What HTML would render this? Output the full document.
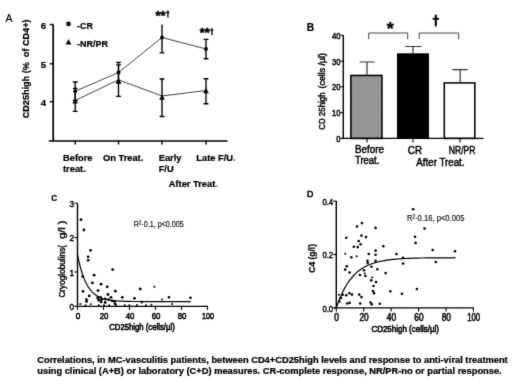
<!DOCTYPE html>
<html><head><meta charset="utf-8"><title>Figure</title>
<style>
html,body{margin:0;padding:0;background:#fff;}
body{width:520px;height:381px;overflow:hidden;font-family:"Liberation Sans",sans-serif;}
svg{display:block;}
text{font-family:"Liberation Sans",sans-serif;fill:#000;}
.b{font-weight:bold;stroke:#000;stroke-width:0.22px;}
</style></head><body>
<svg width="520" height="381" viewBox="0 0 520 381">
<defs><filter id="soft" x="0" y="0" width="520" height="381" filterUnits="userSpaceOnUse" color-interpolation-filters="sRGB"><feConvolveMatrix order="3" kernelMatrix="0.0113 0.0838 0.0113 0.0838 0.6193 0.0838 0.0113 0.0838 0.0113" edgeMode="duplicate" preserveAlpha="true"/></filter><pattern id="hatch" width="3" height="3" patternUnits="userSpaceOnUse"><rect width="3" height="3" fill="#a9a9a9"/><rect width="1.5" height="1.5" fill="#808080"/><rect x="1.5" y="1.5" width="1.5" height="1.5" fill="#808080"/></pattern></defs>
<g filter="url(#soft)"><rect width="520" height="381" fill="#fff"/>
<g id="panelA">
<text x="5.6" y="21.8" font-size="10.5" stroke="#000" stroke-width="0.2">A</text>
<text class="b" font-size="9" transform="translate(29,118.3) rotate(-90)" textLength="98.8" lengthAdjust="spacingAndGlyphs" xml:space="preserve">CD25high (%  of CD4+)</text>
<path d="M53.2 24.4V141M48.8 141H227.5" stroke="#000" stroke-width="1.7" fill="none"/>
<path d="M49.8 24.5H53.2" stroke="#000" stroke-width="1.4"/>
<path d="M49.8 63.8H53.2" stroke="#000" stroke-width="1.4"/>
<path d="M49.8 101.7H53.2" stroke="#000" stroke-width="1.4"/>
<path d="M75.2 140.8V144.5" stroke="#000" stroke-width="1.4"/>
<path d="M118.5 140.8V144.5" stroke="#000" stroke-width="1.4"/>
<path d="M162 140.8V144.5" stroke="#000" stroke-width="1.4"/>
<path d="M206 140.8V144.5" stroke="#000" stroke-width="1.4"/>
<text class="b" font-size="9.6" x="46.2" y="28.9" text-anchor="end">6</text>
<text class="b" font-size="9.6" x="46.2" y="68.2" text-anchor="end">5</text>
<text class="b" font-size="9.6" x="46.2" y="106.1" text-anchor="end">4</text>
<circle cx="68.5" cy="23.9" r="2.35"/>
<path d="M68.5 39 L71.3 44.4 L65.7 44.4Z"/>
<text class="b" font-size="9" x="77" y="29.3">-CR</text>
<text class="b" font-size="9" x="77" y="46.6">-NR/PR</text>
<polyline points="75.2,91.2 118.5,72.5 162,37.5 206,49" fill="none" stroke="#3a3a3a" stroke-width="0.95"/>
<polyline points="75.2,100.5 118.5,79.8 162,96 206,90.5" fill="none" stroke="#3a3a3a" stroke-width="0.95"/>
<path d="M75.2 82V100.4M72.8 82H77.60000000000001M72.8 100.4H77.60000000000001" stroke="#000" stroke-width="1.35" fill="none"/>
<path d="M118.5 62.3V82.7M116.1 62.3H120.9M116.1 82.7H120.9" stroke="#000" stroke-width="1.35" fill="none"/>
<path d="M162 24.6V52.9M159.6 52.9H164.4" stroke="#000" stroke-width="1.35" fill="none"/>
<path d="M206 39.4V58.7M203.6 39.4H208.4M203.6 58.7H208.4" stroke="#000" stroke-width="1.35" fill="none"/>
<path d="M75.2 88.3V111.3M72.8 88.3H77.60000000000001M72.8 111.3H77.60000000000001" stroke="#000" stroke-width="1.35" fill="none"/>
<path d="M118.5 64.8V96.3M116.1 64.8H120.9M116.1 96.3H120.9" stroke="#000" stroke-width="1.35" fill="none"/>
<path d="M162 79V116.5M159.6 79H164.4M159.6 116.5H164.4" stroke="#000" stroke-width="1.35" fill="none"/>
<path d="M206 78.7V103.7M203.6 78.7H208.4M203.6 103.7H208.4" stroke="#000" stroke-width="1.35" fill="none"/>
<circle cx="75.2" cy="91.2" r="1.9"/>
<circle cx="118.5" cy="72.5" r="1.9"/>
<circle cx="162" cy="37.5" r="1.9"/>
<circle cx="206" cy="49" r="1.9"/>
<path d="M75.2 98.3 L78.0 103.5 L72.4 103.5Z"/>
<path d="M118.5 78.3 L121.3 83.5 L115.7 83.5Z"/>
<path d="M162 94.6 L164.8 99.8 L159.2 99.8Z"/>
<path d="M206 88.0 L208.8 93.2 L203.2 93.2Z"/>
<text class="b" font-size="13" x="155.4" y="19.7" style="stroke-width:0.5px">**</text><path d="M167.9 10.4V17.4M166.3 12.5H169.3" stroke="#000" stroke-width="1.3" fill="none"/>
<text class="b" font-size="13" x="199.8" y="37.4" style="stroke-width:0.5px">**</text><path d="M211.9 28.1V35.3M210.3 30.3H213.3" stroke="#000" stroke-width="1.3" fill="none"/>
<text class="b" font-size="9.3" x="63" y="161">Before</text>
<text class="b" font-size="9.3" x="63" y="172">treat.</text>
<text class="b" font-size="9.3" x="103" y="161">On Treat.</text>
<text class="b" font-size="9.3" x="158.7" y="161">Early</text>
<text class="b" font-size="9.3" x="158.7" y="172">F/U</text>
<text class="b" font-size="9.3" x="196.3" y="161">Late F/U<tspan fill="#999">.</tspan></text>
<text class="b" font-size="9.3" x="168.8" y="187.3">After Treat<tspan fill="#999">.</tspan></text>
</g>
<g id="panelB">
<text class="b" font-size="10.3" x="306.8" y="30.9">B</text>
<text font-size="8.2" transform="translate(325.2,129.8) rotate(-90)" textLength="37.4" lengthAdjust="spacingAndGlyphs" stroke="#000" stroke-width="0.45">CD 25high</text>
<text font-size="8.2" transform="translate(325.2,88.4) rotate(-90)" textLength="35.3" lengthAdjust="spacingAndGlyphs" stroke="#000" stroke-width="0.45">(cells /µl)</text>
<rect x="350.85" y="75.45" width="31.1" height="63.0" fill="url(#hatch)" stroke="#000" stroke-width="1.55"/>
<rect x="397" y="53.3" width="32" height="84.80000000000001" fill="#000"/>
<rect x="444.3" y="82.9" width="30.5" height="55.5" fill="#fff" stroke="#000" stroke-width="1.55"/>
<path d="M367 75.4V62M359.6 62H374.6" stroke="#333" stroke-width="1.2" fill="none"/>
<path d="M413 53.6V46.5M405.2 46.5H421.5" stroke="#333" stroke-width="1.2" fill="none"/>
<path d="M460.2 82.9V69.6M452.3 69.6H467.7" stroke="#333" stroke-width="1.2" fill="none"/>
<path d="M343.3 35.3V138.4M341 138.4H483.5" stroke="#000" stroke-width="1.4" fill="none"/>
<path d="M340.4 138.4H343.3" stroke="#000" stroke-width="1.1"/>
<text font-size="9.6" x="340.5" y="141.9" text-anchor="end" textLength="4.2" lengthAdjust="spacingAndGlyphs" stroke="#000" stroke-width="0.5">0</text>
<path d="M340.4 112.6H343.3" stroke="#000" stroke-width="1.1"/>
<text font-size="9.6" x="340.5" y="116.1" text-anchor="end" textLength="8.4" lengthAdjust="spacingAndGlyphs" stroke="#000" stroke-width="0.5">10</text>
<path d="M340.4 86.8H343.3" stroke="#000" stroke-width="1.1"/>
<text font-size="9.6" x="340.5" y="90.3" text-anchor="end" textLength="8.4" lengthAdjust="spacingAndGlyphs" stroke="#000" stroke-width="0.5">20</text>
<path d="M340.4 61.1H343.3" stroke="#000" stroke-width="1.1"/>
<text font-size="9.6" x="340.5" y="64.6" text-anchor="end" textLength="8.4" lengthAdjust="spacingAndGlyphs" stroke="#000" stroke-width="0.5">30</text>
<path d="M340.4 35.3H343.3" stroke="#000" stroke-width="1.1"/>
<text font-size="9.6" x="340.5" y="38.8" text-anchor="end" textLength="8.4" lengthAdjust="spacingAndGlyphs" stroke="#000" stroke-width="0.5">40</text>
<path d="M367 138.4V142.5" stroke="#000" stroke-width="1.1"/>
<path d="M413 138.4V142.5" stroke="#000" stroke-width="1.1"/>
<path d="M460 138.4V142.5" stroke="#000" stroke-width="1.1"/>
<path d="M368.7 39.2V33H407.7V39.2M419.2 39.2V33H458.7V39.2" stroke="#444" stroke-width="1" fill="none"/>
<text class="b" font-size="19" x="386.5" y="34.9">*</text>
<path d="M435.8 14.8V26.3" stroke="#000" stroke-width="2.1"/><path d="M432.7 18.8H439" stroke="#000" stroke-width="1.9"/>
<text font-size="10.7" x="355" y="153" textLength="29" lengthAdjust="spacingAndGlyphs" stroke="#000" stroke-width="0.45">Before</text>
<text font-size="10.7" x="355" y="164.4" textLength="24.4" lengthAdjust="spacingAndGlyphs" stroke="#000" stroke-width="0.45">Treat.</text>
<text font-size="10.7" x="407.8" y="154" textLength="14.2" lengthAdjust="spacingAndGlyphs" stroke="#000" stroke-width="0.45">CR</text>
<text font-size="10.7" x="448.8" y="154" textLength="26.6" lengthAdjust="spacingAndGlyphs" stroke="#000" stroke-width="0.45">NR/PR</text>
<text font-size="10.7" x="416.3" y="165.6" textLength="48.2" lengthAdjust="spacingAndGlyphs" stroke="#000" stroke-width="0.45">After Treat.</text>
</g>
<g id="panelC">
<text class="b" font-size="8.9" x="51.3" y="201.4" textLength="6" lengthAdjust="spacingAndGlyphs">C</text>
<text font-size="8.3" transform="translate(65,297.6) rotate(-90)" textLength="52.5" lengthAdjust="spacingAndGlyphs" stroke="#000" stroke-width="0.4">Cryoglobulins(</text>
<text font-size="8.3" transform="translate(65,238.8) rotate(-90)" textLength="18.3" lengthAdjust="spacingAndGlyphs" stroke="#000" stroke-width="0.4" xml:space="preserve">g/l )</text>
<path d="M77.5 203.5V306.4M75.0 306.4H208" stroke="#000" stroke-width="1.4" fill="none"/>
<path d="M74.5 306.4H77.5" stroke="#000" stroke-width="1.1"/>
<text font-size="9.9" x="74.2" y="310.1" text-anchor="end" textLength="4.6" lengthAdjust="spacingAndGlyphs" stroke="#000" stroke-width="0.45">0</text>
<path d="M74.5 272.0H77.5" stroke="#000" stroke-width="1.1"/>
<text font-size="9.9" x="74.2" y="275.7" text-anchor="end" textLength="4.6" lengthAdjust="spacingAndGlyphs" stroke="#000" stroke-width="0.45">1</text>
<path d="M74.5 237.6H77.5" stroke="#000" stroke-width="1.1"/>
<text font-size="9.9" x="74.2" y="241.3" text-anchor="end" textLength="4.6" lengthAdjust="spacingAndGlyphs" stroke="#000" stroke-width="0.45">2</text>
<path d="M74.5 203.2H77.5" stroke="#000" stroke-width="1.1"/>
<text font-size="9.9" x="74.2" y="206.9" text-anchor="end" textLength="4.6" lengthAdjust="spacingAndGlyphs" stroke="#000" stroke-width="0.45">3</text>
<path d="M77.5 306.4V309.9" stroke="#000" stroke-width="1.1"/>
<text font-size="9.8" x="78.1" y="318.9" text-anchor="middle" textLength="4.5" lengthAdjust="spacingAndGlyphs" stroke="#000" stroke-width="0.55">0</text>
<path d="M103.5 306.4V309.9" stroke="#000" stroke-width="1.1"/>
<text font-size="9.8" x="104.1" y="318.9" text-anchor="middle" textLength="8.7" lengthAdjust="spacingAndGlyphs" stroke="#000" stroke-width="0.55">20</text>
<path d="M129.5 306.4V309.9" stroke="#000" stroke-width="1.1"/>
<text font-size="9.8" x="130.1" y="318.9" text-anchor="middle" textLength="8.7" lengthAdjust="spacingAndGlyphs" stroke="#000" stroke-width="0.55">40</text>
<path d="M155.5 306.4V309.9" stroke="#000" stroke-width="1.1"/>
<text font-size="9.8" x="156.1" y="318.9" text-anchor="middle" textLength="8.7" lengthAdjust="spacingAndGlyphs" stroke="#000" stroke-width="0.55">60</text>
<path d="M181.5 306.4V309.9" stroke="#000" stroke-width="1.1"/>
<text font-size="9.8" x="182.1" y="318.9" text-anchor="middle" textLength="8.7" lengthAdjust="spacingAndGlyphs" stroke="#000" stroke-width="0.55">80</text>
<path d="M207.5 306.4V309.9" stroke="#000" stroke-width="1.1"/>
<text font-size="9.8" x="208.1" y="318.9" text-anchor="middle" textLength="12" lengthAdjust="spacingAndGlyphs" stroke="#000" stroke-width="0.55">100</text>
<polyline points="77.5,254.8 78.8,260.9 80.1,266.2 81.4,270.8 82.7,274.9 84.0,278.4 85.3,281.4 86.6,284.0 87.9,286.3 89.2,288.3 90.5,290.0 91.8,291.6 93.1,292.9 94.4,294.0 95.7,295.0 97.0,295.9 98.3,296.6 99.6,297.3 100.9,297.8 102.2,298.3 103.5,298.7 104.8,299.1 106.1,299.4 107.4,299.7 108.7,300.0 110.0,300.2 111.3,300.4 112.6,300.5 113.9,300.7 115.2,300.8 116.5,300.9 117.8,301.0 119.1,301.1 120.4,301.1 121.7,301.2 123.0,301.2 124.3,301.3 125.6,301.3 126.9,301.4 128.2,301.4 129.5,301.4 130.8,301.4 132.1,301.5 133.4,301.5 134.7,301.5 136.0,301.5 137.3,301.5 138.6,301.5 139.9,301.5 141.2,301.5 142.5,301.5 143.8,301.5 145.1,301.6 146.4,301.6 147.7,301.6 149.0,301.6 150.3,301.6 151.6,301.6 152.9,301.6 154.2,301.6 155.5,301.6 156.8,301.6 158.1,301.6 159.4,301.6 160.7,301.6 162.0,301.6 163.3,301.6 164.6,301.6 165.9,301.6 167.2,301.6 168.5,301.6 169.8,301.6 171.1,301.6 172.4,301.6 173.7,301.6 175.0,301.6 176.3,301.6 177.6,301.6 178.9,301.6 180.2,301.6 181.5,301.6 182.8,301.6 184.1,301.6 185.4,301.6 186.7,301.6 188.0,301.6 189.3,301.6 190.6,301.6" fill="none" stroke="#000" stroke-width="1.2"/>
<circle cx="154.4" cy="286.7" r="1.05"/>
<circle cx="169" cy="297.2" r="1.3"/>
<circle cx="190.5" cy="297.7" r="1.3"/>
<circle cx="81" cy="219.7" r="1.4"/>
<circle cx="83.9" cy="230" r="1.4"/>
<circle cx="90.6" cy="250.3" r="1.4"/>
<circle cx="88.1" cy="256.8" r="1.4"/>
<circle cx="88.1" cy="260.3" r="1.4"/>
<circle cx="112.7" cy="269.6" r="1.4"/>
<circle cx="94.1" cy="275.2" r="1.4"/>
<circle cx="82.7" cy="276.6" r="1.4"/>
<circle cx="92.4" cy="282.9" r="1.4"/>
<circle cx="101.1" cy="284.2" r="1.4"/>
<circle cx="107.2" cy="286.8" r="1.4"/>
<circle cx="98" cy="290.6" r="1.4"/>
<circle cx="115.3" cy="291.2" r="1.4"/>
<circle cx="83" cy="291.3" r="1.4"/>
<circle cx="140.2" cy="289" r="1.4"/>
<circle cx="89.2" cy="295.9" r="1.4"/>
<circle cx="108" cy="294.5" r="1.4"/>
<circle cx="122.3" cy="297.3" r="1.4"/>
<circle cx="134.5" cy="298.3" r="1.4"/>
<circle cx="86.4" cy="299.6" r="1.4"/>
<circle cx="86.6" cy="301.4" r="1.4"/>
<circle cx="111" cy="297.3" r="1.4"/>
<circle cx="97.7" cy="297.9" r="1.4"/>
<circle cx="100.5" cy="297.3" r="1.4"/>
<circle cx="98.8" cy="300.2" r="1.4"/>
<circle cx="101.7" cy="299.6" r="1.4"/>
<circle cx="101.1" cy="301.9" r="1.4"/>
<circle cx="105.2" cy="299" r="1.4"/>
<circle cx="105.2" cy="302.5" r="1.4"/>
<circle cx="108.6" cy="299.6" r="1.4"/>
<circle cx="112.1" cy="300.8" r="1.4"/>
<circle cx="114.4" cy="301.3" r="1.4"/>
<circle cx="115" cy="303.7" r="1.4"/>
<circle cx="141.8" cy="302.1" r="1.4"/>
<circle cx="162" cy="299.5" r="1"/>
<circle cx="172.2" cy="303.9" r="1"/>
<circle cx="151.4" cy="304.8" r="1"/>
<circle cx="80.3" cy="304" r="1"/>
<circle cx="85.5" cy="305.3" r="1"/>
<circle cx="90.7" cy="304.3" r="1"/>
<circle cx="98.8" cy="305.3" r="1"/>
<circle cx="104" cy="305.3" r="1"/>
<circle cx="109.2" cy="305.3" r="1"/>
<circle cx="116.1" cy="305" r="1"/>
<circle cx="124.8" cy="305.3" r="1"/>
<circle cx="129.4" cy="305.3" r="1"/>
<circle cx="137" cy="305" r="1"/>
<circle cx="146" cy="305.2" r="1"/>
<text font-size="8.9" x="133.8" y="226.5" fill="#1a1a1a" stroke="#1a1a1a" stroke-width="0.15" textLength="50" lengthAdjust="spacingAndGlyphs">R²·0.1, p&lt;0.005</text>
<text font-size="9" x="109.2" y="329.5" textLength="65.6" lengthAdjust="spacingAndGlyphs" stroke="#000" stroke-width="0.6">CD25high (cells/µl)</text>
</g>
<g id="panelD">
<text font-size="9.4" x="306.9" y="197.4" textLength="6.4" lengthAdjust="spacingAndGlyphs" stroke="#000" stroke-width="0.6">D</text>
<text class="b" font-size="8.5" transform="translate(314.6,272.7) rotate(-90)" textLength="28.7" lengthAdjust="spacingAndGlyphs">C4 (g/l)</text>
<path d="M336.3 200.9V307.9M333.8 307.9H474" stroke="#000" stroke-width="1.4" fill="none"/>
<path d="M333.3 307.9H336.3" stroke="#000" stroke-width="1.1"/>
<text font-size="9.6" x="333.2" y="311.5" text-anchor="end" textLength="10.8" lengthAdjust="spacingAndGlyphs" stroke="#000" stroke-width="0.45">0.0</text>
<path d="M333.3 254.5H336.3" stroke="#000" stroke-width="1.1"/>
<text font-size="9.6" x="333.2" y="258.1" text-anchor="end" textLength="10.8" lengthAdjust="spacingAndGlyphs" stroke="#000" stroke-width="0.45">0.2</text>
<path d="M333.3 201.1H336.3" stroke="#000" stroke-width="1.1"/>
<text font-size="9.6" x="333.2" y="204.7" text-anchor="end" textLength="10.8" lengthAdjust="spacingAndGlyphs" stroke="#000" stroke-width="0.45">0.4</text>
<path d="M336.3 307.9V311.4" stroke="#000" stroke-width="1.1"/>
<text font-size="10" x="336.6" y="320.9" text-anchor="middle" textLength="4.7" lengthAdjust="spacingAndGlyphs" stroke="#000" stroke-width="0.55">0</text>
<path d="M363.7 307.9V311.4" stroke="#000" stroke-width="1.1"/>
<text font-size="10" x="364.0" y="320.9" text-anchor="middle" textLength="9.2" lengthAdjust="spacingAndGlyphs" stroke="#000" stroke-width="0.55">20</text>
<path d="M391.1 307.9V311.4" stroke="#000" stroke-width="1.1"/>
<text font-size="10" x="391.4" y="320.9" text-anchor="middle" textLength="9.2" lengthAdjust="spacingAndGlyphs" stroke="#000" stroke-width="0.55">40</text>
<path d="M418.6 307.9V311.4" stroke="#000" stroke-width="1.1"/>
<text font-size="10" x="418.9" y="320.9" text-anchor="middle" textLength="9.2" lengthAdjust="spacingAndGlyphs" stroke="#000" stroke-width="0.55">60</text>
<path d="M446.0 307.9V311.4" stroke="#000" stroke-width="1.1"/>
<text font-size="10" x="446.3" y="320.9" text-anchor="middle" textLength="9.2" lengthAdjust="spacingAndGlyphs" stroke="#000" stroke-width="0.55">80</text>
<path d="M473.4 307.9V311.4" stroke="#000" stroke-width="1.1"/>
<text font-size="10" x="473.7" y="320.9" text-anchor="middle" textLength="12.8" lengthAdjust="spacingAndGlyphs" stroke="#000" stroke-width="0.55">100</text>
<polyline points="336.3,307.9 337.7,303.9 339.0,300.3 340.4,297.0 341.8,293.9 343.2,291.0 344.5,288.4 345.9,286.0 347.3,283.8 348.6,281.7 350.0,279.8 351.4,278.1 352.8,276.5 354.1,275.0 355.5,273.6 356.9,272.4 358.2,271.2 359.6,270.2 361.0,269.2 362.3,268.3 363.7,267.4 365.1,266.7 366.5,266.0 367.8,265.3 369.2,264.7 370.6,264.2 371.9,263.7 373.3,263.2 374.7,262.8 376.1,262.4 377.4,262.0 378.8,261.7 380.2,261.3 381.5,261.1 382.9,260.8 384.3,260.6 385.7,260.3 387.0,260.1 388.4,259.9 389.8,259.8 391.1,259.6 392.5,259.4 393.9,259.3 395.3,259.2 396.6,259.1 398.0,259.0 399.4,258.9 400.7,258.8 402.1,258.7 403.5,258.6 404.9,258.5 406.2,258.5 407.6,258.4 409.0,258.4 410.3,258.3 411.7,258.3 413.1,258.2 414.4,258.2 415.8,258.1 417.2,258.1 418.6,258.1 419.9,258.0 421.3,258.0 422.7,258.0 424.0,258.0 425.4,257.9 426.8,257.9 428.2,257.9 429.5,257.9 430.9,257.9 432.3,257.9 433.6,257.9 435.0,257.8 436.4,257.8 437.8,257.8 439.1,257.8 440.5,257.8 441.9,257.8 443.2,257.8 444.6,257.8 446.0,257.8 447.4,257.8 448.7,257.8 450.1,257.8 451.5,257.8 452.8,257.8 454.2,257.7 455.6,257.7" fill="none" stroke="#000" stroke-width="1.2"/>
<circle cx="361.9" cy="223.1" r="1.3"/>
<circle cx="357.1" cy="226.5" r="1.3"/>
<circle cx="375.6" cy="227.9" r="1.3"/>
<circle cx="346.2" cy="237.7" r="1.3"/>
<circle cx="361.5" cy="235.6" r="1.3"/>
<circle cx="366" cy="237.1" r="1.3"/>
<circle cx="358.7" cy="241" r="1.3"/>
<circle cx="360.6" cy="244.2" r="1.3"/>
<circle cx="353.8" cy="246.7" r="1.3"/>
<circle cx="357.7" cy="247.1" r="1.3"/>
<circle cx="383.3" cy="246.3" r="1.3"/>
<circle cx="375.6" cy="250.6" r="1.3"/>
<circle cx="368.8" cy="254" r="1.3"/>
<circle cx="375.6" cy="254.8" r="1.3"/>
<circle cx="396.4" cy="254.1" r="1.3"/>
<circle cx="351.3" cy="257.2" r="1.3"/>
<circle cx="367.5" cy="260.7" r="1.3"/>
<circle cx="367.7" cy="263" r="1.3"/>
<circle cx="375.6" cy="260.8" r="1.3"/>
<circle cx="346.7" cy="266.3" r="1.3"/>
<circle cx="345.2" cy="269.6" r="1.3"/>
<circle cx="349.6" cy="272.5" r="1.3"/>
<circle cx="371.5" cy="266.7" r="1.3"/>
<circle cx="377.3" cy="269.2" r="1.3"/>
<circle cx="364" cy="270.2" r="1.3"/>
<circle cx="385.6" cy="273.1" r="1.3"/>
<circle cx="360" cy="275" r="1.3"/>
<circle cx="365.4" cy="276" r="1.3"/>
<circle cx="371.2" cy="280.4" r="1.3"/>
<circle cx="376" cy="282.1" r="1.3"/>
<circle cx="373.5" cy="286" r="1.3"/>
<circle cx="373" cy="291" r="1.3"/>
<circle cx="374" cy="293.3" r="1.3"/>
<circle cx="390.3" cy="291.3" r="1.3"/>
<circle cx="342.7" cy="294.8" r="1.3"/>
<circle cx="346.2" cy="295.2" r="1.3"/>
<circle cx="349.4" cy="293.3" r="1.3"/>
<circle cx="352" cy="294.6" r="1.3"/>
<circle cx="359.2" cy="294.6" r="1.3"/>
<circle cx="361.5" cy="297.1" r="1.3"/>
<circle cx="341" cy="298" r="1.3"/>
<circle cx="339.4" cy="301.5" r="1.3"/>
<circle cx="347.1" cy="303.5" r="1.3"/>
<circle cx="349.6" cy="302.9" r="1.3"/>
<circle cx="360.2" cy="303.5" r="1.3"/>
<circle cx="370.6" cy="302.5" r="1.3"/>
<circle cx="371.7" cy="304.2" r="1.3"/>
<circle cx="379.8" cy="303.8" r="1.3"/>
<circle cx="413.1" cy="209.2" r="1.3"/>
<circle cx="424.6" cy="228.5" r="1.3"/>
<circle cx="415" cy="236.7" r="1.3"/>
<circle cx="415.6" cy="242.9" r="1.3"/>
<circle cx="432.7" cy="250" r="1.3"/>
<circle cx="455" cy="251.2" r="1.3"/>
<circle cx="403.1" cy="257.7" r="1.3"/>
<circle cx="403.1" cy="263.5" r="1.3"/>
<circle cx="435.8" cy="262" r="1.3"/>
<circle cx="416.9" cy="289" r="1.3"/>
<circle cx="401.9" cy="293.8" r="1.3"/>
<circle cx="345.2" cy="253.8" r="1"/>
<circle cx="356.7" cy="256.3" r="1"/>
<circle cx="339" cy="294.8" r="1"/>
<circle cx="364.7" cy="273.6" r="1"/>
<circle cx="372.1" cy="277.4" r="1"/>
<text font-size="9.5" x="406.9" y="220.8" fill="#1a1a1a" stroke="#1a1a1a" stroke-width="0.15" textLength="57.6" lengthAdjust="spacingAndGlyphs">R²·0.16, p&lt;0.005</text>
<text font-size="9.2" x="371.4" y="332.3" textLength="67.6" lengthAdjust="spacingAndGlyphs" stroke="#000" stroke-width="0.6">CD25high (cells/µl)</text>
</g>
<text class="b" font-size="8.6" x="37.3" y="362.9" textLength="470.4" lengthAdjust="spacingAndGlyphs">Correlations, in MC-vasculitis patients, between CD4+CD25high levels and response to anti-viral treatment</text>
<text class="b" font-size="8.6" x="37.3" y="374.4" textLength="464.4" lengthAdjust="spacingAndGlyphs">using clinical (A+B) or laboratory (C+D) measures. CR-complete response, NR/PR-no or partial response.</text>
</g></svg></body></html>
